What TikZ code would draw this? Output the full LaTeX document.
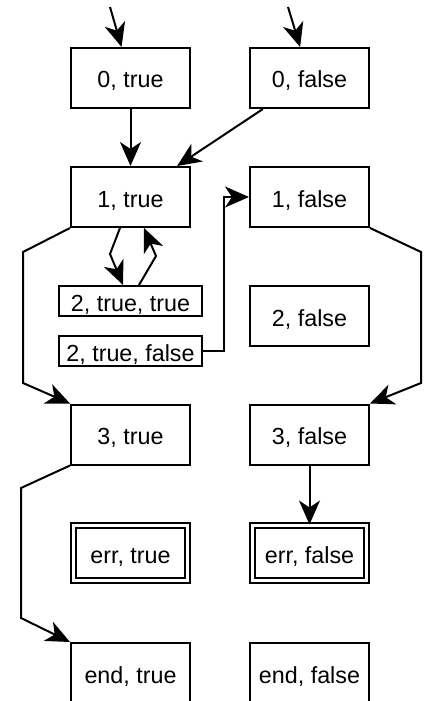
\documentclass[tikz,border=0pt]{standalone}
\usepackage{fontspec}
\setmainfont{Liberation Sans}
\usetikzlibrary{arrows.meta,calc}
\begin{document}
\begin{tikzpicture}[x=1pt,y=-1pt,
  state/.style={draw, line width=2pt, minimum width=119pt, minimum height=60pt,
    inner sep=0pt, text height=20pt, text depth=0pt,
    font=\fontsize{23.3}{28}\selectfont},
  substate/.style={state, minimum width=143pt, minimum height=30pt},
  errstate/.style={state, double, double distance=3pt,
    minimum width=114pt, minimum height=55pt},
  arr/.style={line width=2pt, -{Stealth[length=24pt, width=21pt, inset=7pt]}},
]
\useasboundingbox (0,0) rectangle (423,701);

% states
\node[state] (t0) at (130.5,78) {0, true};
\node[state] (f0) at (309.5,78) {0, false};
\node[state] (t1) at (130.5,197) {1, true};
\node[state] (f1) at (309.5,197) {1, false};
\node[substate] (tt2) at (130.5,301) {2, true, true};
\node[substate] (tf2) at (130.5,351) {2, true, false};
\node[state] (f2) at (309.5,316) {2, false};
\node[state] (t3) at (130.5,434.5) {3, true};
\node[state] (f3) at (309.5,434.5) {3, false};
\node[errstate] (terr) at (130.5,553) {err, true};
\node[errstate] (ferr) at (309.5,553) {err, false};
\node[state] (tend) at (130.5,673) {end, true};
\node[state] (fend) at (309.5,673) {end, false};

% initial arrows
\coordinate (st) at (110,7);
\coordinate (sf) at (288,7);
\draw[arr] (st) -- (t0);
\draw[arr] (sf) -- (f0);

% transitions
\draw[arr] (t0) -- (t1);
\draw[arr] (f0) -- (t1);
\draw[arr] ($(t1.south)+(-10.5,0)$) -- ++(-10,26) -- ($(tt2.north)+(-7.5,0)$);
\draw[arr] ($(tt2.north)+(8.5,0)$) -- ++(17,-29) -- ($(t1.south)+(13.5,0)$);
\draw[arr] (t1.south west) -- (23,252) -- (23,383) -- (t3.north west);
\draw[arr] (f1.south east) -- (421,252) -- (421,383) -- (f3.north east);
\draw[arr] (tf2.east) -- (224,351) -- (224,197) -- (f1.west);
\draw[arr] (f3) -- (ferr);
\draw[arr] (t3.south west) -- (21,488) -- (21,618) -- (tend.north west);
\end{tikzpicture}
\end{document}
